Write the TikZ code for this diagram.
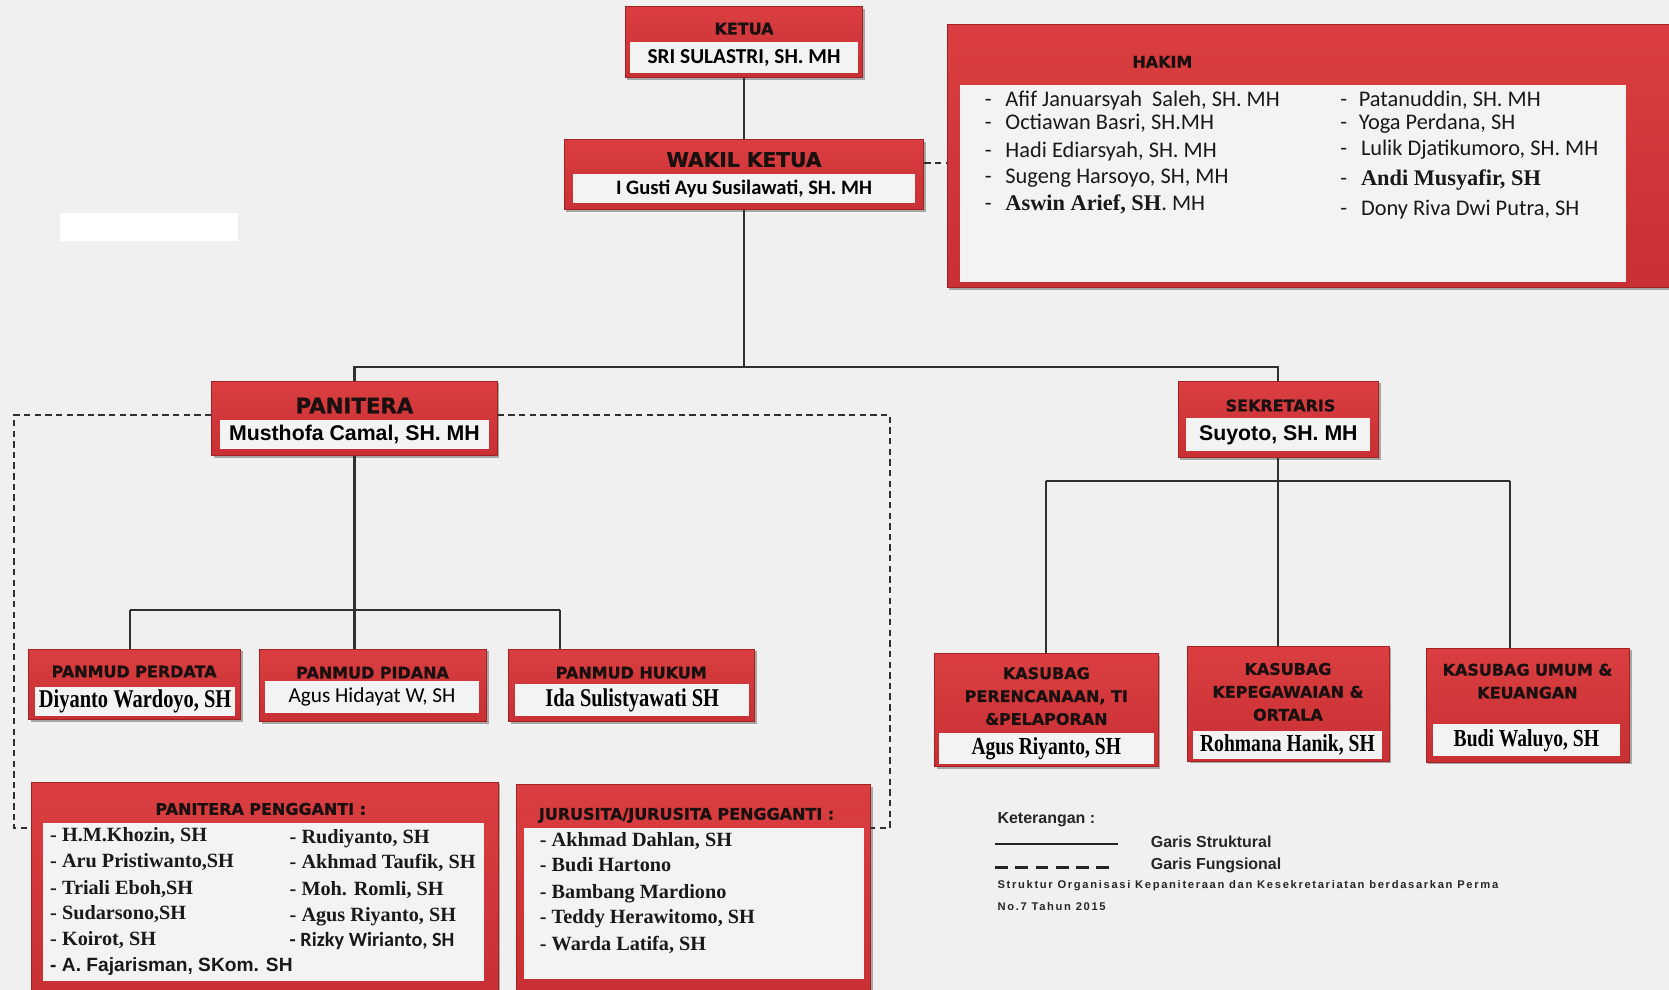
\documentclass[tikz,border=0pt]{standalone}
\usepackage{fontspec}
\setmainfont{Liberation Sans}
\newfontfamily\judulfont[FakeBold=1]{DejaVu Sans}
\newfontfamily\calfont{Carlito}
\newfontfamily\serifnama{Liberation Serif}
\newfontfamily\serifsempit[FakeStretch=0.8]{Liberation Serif}
\newfontfamily\catatanfont[LetterSpace=15]{Liberation Sans}
\usetikzlibrary{shadows}

\definecolor{latar}{HTML}{F0F0F0}
\definecolor{merah}{HTML}{C83034}
\definecolor{merahmuda}{HTML}{DA3E40}
\definecolor{merahtua}{HTML}{A22226}
\definecolor{pitaputih}{HTML}{F3F3F3}
\definecolor{tinta}{HTML}{1A1010}
\definecolor{garis}{HTML}{303030}

\tikzset{
  kotak/.style={rectangle, draw=merahtua, line width=1pt, top color=merahmuda, bottom color=merah,
    inner sep=0pt, drop shadow={shadow xshift=2pt, shadow yshift=-2pt, fill=black, opacity=0.3}},
  pita/.style={rectangle, fill=pitaputih, inner sep=0pt, text=black},
  judul/.style={font=\judulfont\bfseries\fontsize{15}{21.5}\selectfont, text=tinta, align=center, inner sep=0pt},
  namaCal/.style={font=\calfont\bfseries\fontsize{20}{21}\selectfont},
  namaArial/.style={font=\bfseries\fontsize{20}{22}\selectfont},
  namaSerif/.style={font=\serifsempit\bfseries\fontsize{24}{26}\selectfont},
  daftar/.style={anchor=west, inner sep=0pt, text height=1.4em, text depth=0.2em, text=black!90},
  daftarCal/.style={daftar, font=\calfont\fontsize{21}{22}\selectfont},
  daftarSerif/.style={daftar, font=\serifnama\bfseries\fontsize{19}{21}\selectfont},
  struktural/.style={draw=garis, line width=2pt},
  fungsional/.style={draw=garis, line width=1.6pt, dash pattern=on 6pt off 4pt},
  ket/.style={anchor=west, inner sep=0pt, text=black!85, font=\bfseries\fontsize{15}{17}\selectfont},
}

\begin{document}
\begin{tikzpicture}[x=1pt,y=-1pt]
    \fill[latar] (0,0) rectangle (1568,930);
    \useasboundingbox (0,0) rectangle (1568,930);
    \fill[white] (56,200) rectangle (224,226);

    % pimpinan
    \node[kotak, minimum width=223pt, minimum height=67pt] (ketua) at (699,39.5) {};
    \node[judul] (ketuaJudul) at (699,27) {KETUA};
    \node[pita, namaCal, minimum width=214pt, minimum height=29pt] (ketuaNama) at (699,54) {SRI SULASTRI, SH. MH};

    \node[kotak, minimum width=338pt, minimum height=66pt] (wakil) at (699,164) {};
    \node[judul, font=\judulfont\bfseries\fontsize{19}{20}\selectfont] (wakilJudul) at (699,150) {WAKIL KETUA};
    \node[pita, namaCal, font=\calfont\bfseries\fontsize{19.3}{21}\selectfont, minimum width=322pt, minimum height=28pt] (wakilNama) at (699,177) {I Gusti Ayu Susilawati, SH. MH};

    % hakim
    \node[kotak, minimum width=680pt, minimum height=247pt] (hakim) at (1230,146.5) {};
    \node[judul] (hakimJudul) at (1092,58) {HAKIM};
    \node[pita, minimum width=626pt, minimum height=185pt] (hakimIsi) at (1215,172.5) {};
    \node[daftarCal] (h1) at (925,94) {-\hspace{13pt}Afif Januarsyah\ \ Saleh, SH. MH};
    \node[daftarCal] (h2) at (925,116) {-\hspace{13pt}Octiawan Basri, SH.MH};
    \node[daftarCal] (h3) at (925,142) {-\hspace{13pt}Hadi Ediarsyah, SH. MH};
    \node[daftarCal] (h4) at (925,166) {-\hspace{13pt}Sugeng Harsoyo, SH, MH};
    \node[daftarCal] (h5) at (925,192) {-\hspace{13pt}{\serifnama\bfseries Aswin Arief, SH}. MH};
    \node[daftarCal] (h6) at (1259,94) {-\hspace{11pt}Patanuddin, SH. MH};
    \node[daftarCal] (h7) at (1259,116) {-\hspace{11pt}Yoga Perdana, SH};
    \node[daftarCal] (h8) at (1259,140) {-\hspace{13pt}Lulik Djatikumoro, SH. MH};
    \node[daftarCal] (h9) at (1259,168) {-\hspace{13pt}{\serifnama\bfseries\fontsize{21}{22}\selectfont Andi Musyafir, SH}};
    \node[daftarCal] (h10) at (1259,196) {-\hspace{13pt}Dony Riva Dwi Putra, SH};

    % kepaniteraan dan kesekretariatan
    \node[kotak, minimum width=268pt, minimum height=70pt] (panitera) at (333,393) {};
    \node[judul, font=\judulfont\bfseries\fontsize{20}{21}\selectfont] (paniteraJudul) at (333,381) {PANITERA};
    \node[pita, namaArial, minimum width=253pt, minimum height=27pt] (paniteraNama) at (333,408.5) {Musthofa Camal, SH. MH};

    \node[kotak, minimum width=188pt, minimum height=72pt] (sekretaris) at (1201,394) {};
    \node[judul] (sekretarisJudul) at (1203,381) {SEKRETARIS};
    \node[pita, namaArial, minimum width=173pt, minimum height=31pt] (sekretarisNama) at (1201,408.5) {Suyoto, SH. MH};

    % panmud
    \node[kotak, minimum width=199pt, minimum height=66pt] (perdata) at (126.5,643) {};
    \node[judul] (perdataJudul) at (126,631) {PANMUD PERDATA};
    \node[pita, namaSerif, minimum width=188pt, minimum height=28pt] (perdataNama) at (127,659) {Diyanto Wardoyo, SH};

    \node[kotak, minimum width=213pt, minimum height=68pt] (pidana) at (350.5,644) {};
    \node[judul] (pidanaJudul) at (350,632) {PANMUD PIDANA};
    \node[pita, font=\calfont\fontsize{20}{22}\selectfont, minimum width=201pt, minimum height=30pt] (pidanaNama) at (349.5,655) {Agus Hidayat W, SH};

    \node[kotak, minimum width=231pt, minimum height=68pt] (hukum) at (593.5,644) {};
    \node[judul] (hukumJudul) at (593,632) {PANMUD HUKUM};
    \node[pita, namaSerif, minimum width=220pt, minimum height=30pt] (hukumNama) at (594,658) {Ida Sulistyawati SH};

    % kasubag
    \node[kotak, minimum width=210pt, minimum height=106pt] (perencanaan) at (983,667) {};
    \node[judul] (perencanaanJudul) at (983,654) {KASUBAG\\PERENCANAAN, TI\\\&PELAPORAN};
    \node[pita, namaSerif, font=\serifsempit\bfseries\fontsize{23}{25}\selectfont, minimum width=202pt, minimum height=29pt] (perencanaanNama) at (983,703) {Agus Riyanto, SH};

    \node[kotak, minimum width=189pt, minimum height=108pt] (kepegawaian) at (1210.5,661) {};
    \node[judul] (kepegawaianJudul) at (1210,650) {KASUBAG\\KEPEGAWAIAN \&\\ORTALA};
    \node[pita, namaSerif, font=\serifsempit\bfseries\fontsize{23}{25}\selectfont, minimum width=177pt, minimum height=27pt] (kepegawaianNama) at (1209.5,700) {Rohmana Hanik, SH};

    \node[kotak, minimum width=191pt, minimum height=107pt] (umum) at (1435.5,662.5) {};
    \node[judul] (umumJudul) at (1435,640) {KASUBAG UMUM \&\\KEUANGAN};
    \node[pita, namaSerif, font=\serifsempit\bfseries\fontsize{23}{25}\selectfont, minimum width=176pt, minimum height=30pt] (umumNama) at (1434,695.5) {Budi Waluyo, SH};

    % panitera pengganti dan jurusita
    \node[kotak, minimum width=438pt, minimum height=197pt] (pengganti) at (249,833.5) {};
    \node[judul] (penggantiJudul) at (245,760) {PANITERA PENGGANTI :};
    \node[pita, minimum width=415pt, minimum height=149pt] (penggantiIsi) at (247.5,847.5) {};
    \node[daftarSerif] (pp1) at (47,785) {- H.M.Khozin, SH};
    \node[daftarSerif] (pp2) at (47,809) {- Aru Pristiwanto,SH};
    \node[daftarSerif] (pp3) at (47,834) {- Triali Eboh,SH};
    \node[daftarSerif] (pp4) at (47,858) {- Sudarsono,SH};
    \node[daftarSerif] (pp5) at (47,882) {- Koirot, SH};
    \node[daftar, font=\bfseries\fontsize{18}{20}\selectfont] (pp6) at (47,907) {- A. Fajarisman, SKom. SH};
    \node[daftarSerif] (pp7) at (272,786) {- Rudiyanto, SH};
    \node[daftarSerif] (pp8) at (272,810) {- Akhmad Taufik, SH};
    \node[daftarSerif] (pp9) at (272,835) {- Moh. Romli, SH};
    \node[daftarSerif] (pp10) at (272,860) {- Agus Riyanto, SH};
    \node[daftar, font=\calfont\bfseries\fontsize{19}{21}\selectfont] (pp11) at (272,883) {- Rizky Wirianto, SH};

    \node[kotak, minimum width=333pt, minimum height=195pt] (jurusita) at (651.5,834.5) {};
    \node[judul] (jurusitaJudul) at (645,766) {JURUSITA/JURUSITA PENGGANTI :};
    \node[pita, minimum width=320pt, minimum height=142pt] (jurusitaIsi) at (652,849) {};
    \node[daftarSerif] (js1) at (507,789) {- Akhmad Dahlan, SH};
    \node[daftarSerif] (js2) at (507,813) {- Budi Hartono};
    \node[daftarSerif] (js3) at (507,838) {- Bambang Mardiono};
    \node[daftarSerif] (js4) at (507,862) {- Teddy Herawitomo, SH};
    \node[daftarSerif] (js5) at (507,887) {- Warda Latifa, SH};

    % garis struktural
    \coordinate (cabang) at (699,345);
    \coordinate (cabangP) at (333,573);
    \coordinate (kiriP) at (122,573);
    \coordinate (kananP) at (526,573);
    \coordinate (cabangS) at (1201,452);
    \coordinate (kiriS) at (983,452);
    \coordinate (kananS) at (1419,452);
    \draw[struktural] (ketua.south) -- (wakil.north);
    \draw[struktural] (wakil.south) -- (cabang);
    \draw[struktural] (panitera.north) |- (cabang) -| (sekretaris.north);
    \draw[struktural] (panitera.south) -- (cabangP);
    \draw[struktural] (kiriP) -- (kananP);
    \draw[struktural] (kiriP) -- (kiriP |- perdata.north);
    \draw[struktural] (cabangP) -- (cabangP |- pidana.north);
    \draw[struktural] (kananP) -- (kananP |- hukum.north);
    \draw[struktural] (sekretaris.south) -- (cabangS);
    \draw[struktural] (kiriS) -- (kananS);
    \draw[struktural] (kiriS) -- (kiriS |- perencanaan.north);
    \draw[struktural] (cabangS) -- (cabangS |- kepegawaian.north);
    \draw[struktural] (kananS) -- (kananS |- umum.north);

    % garis fungsional
    \coordinate (sudutKiri) at (13,778);
    \coordinate (sudutKanan) at (836,778);
    \draw[fungsional] ([yshift=11pt]wakil.east) -- ([yshift=11pt]wakil.east -| hakim.west);
    \draw[fungsional] ([yshift=3pt]panitera.west) -| (sudutKiri) -- (sudutKiri -| pengganti.west);
    \draw[fungsional] ([yshift=3pt]panitera.east) -| (sudutKanan) -- (sudutKanan -| jurusita.east);

    % keterangan
    \node[ket] (keterangan) at (937,770) {Keterangan :};
    \coordinate (lgA) at (935,793);
    \coordinate (lgB) at (1050,793);
    \coordinate (lgC) at (935,815);
    \coordinate (lgD) at (1047,815);
    \draw[draw=black!85, line width=2pt] (lgA) -- (lgB);
    \draw[draw=black!85, line width=2pt, dash pattern=on 12pt off 7pt] (lgC) -- (lgD);
    \node[ket] (ketStruktural) at (1081,791) {Garis Struktural};
    \node[ket] (ketFungsional) at (1081,813) {Garis Fungsional};
    \node[ket, font=\catatanfont\bfseries\fontsize{10.5}{13}\selectfont] (catatan1) at (937,832) {Struktur Organisasi Kepaniteraan dan Kesekretariatan berdasarkan Perma};
    \node[ket, font=\catatanfont\bfseries\fontsize{10.5}{13}\selectfont] (catatan2) at (937,852) {No.7 Tahun 2015};
\end{tikzpicture}
\end{document}
